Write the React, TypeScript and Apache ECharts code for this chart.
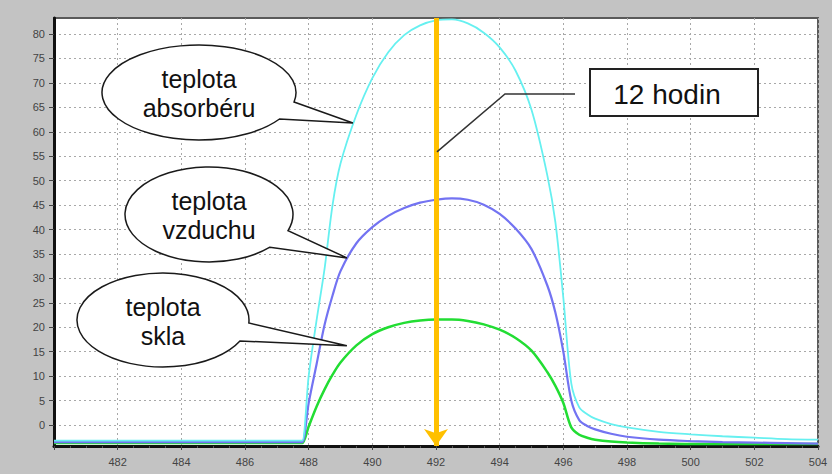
import React, { useEffect, useRef } from "react";
import * as echarts from "echarts";

// hours of simulation (x axis)
const hours = [480, 482, 484, 486, 487.7, 487.8, 488, 488.25, 488.5, 488.75, 489, 489.5, 490, 490.5, 491, 491.5, 492, 492.5, 493, 493.5, 494, 494.5, 495, 495.5, 495.75, 496, 496.25, 496.5, 496.75, 497, 497.5, 498, 499, 500, 501, 502, 503, 504];
// teplota absorbéru (cyan)
const absorber = [-3.2, -3.2, -3.2, -3.2, -3.2, -3.2, 10, 21.5, 32, 45, 53.5, 63.5, 71, 76.3, 79.8, 81.8, 82.8, 83, 82.2, 80.3, 77.3, 72.5, 64.5, 51, 41.5, 26, 8.5, 3.6, 2.2, 1.3, 0.2, -0.5, -1.4, -1.9, -2.3, -2.6, -2.9, -3.0];
// teplota vzduchu (blue)
const air = [-3.5, -3.5, -3.5, -3.5, -3.5, -3.5, 4.5, 12.5, 20.5, 26.5, 31.5, 37.2, 40.5, 42.8, 44.4, 45.5, 46.1, 46.4, 46.1, 45.1, 43.2, 40.2, 36, 28.5, 23, 15, 5, 1.0, -0.2, -0.9, -1.8, -2.4, -3.0, -3.3, -3.5, -3.6, -3.7, -3.8];
// teplota skla (green)
const glass = [-3.7, -3.7, -3.7, -3.7, -3.7, -3.7, -0.3, 3.8, 7.3, 10.3, 12.8, 16.3, 18.6, 20, 20.9, 21.4, 21.6, 21.6, 21.3, 20.6, 19.5, 17.8, 15.2, 10.8, 8, 4.5, -0.5, -2.0, -2.6, -3.0, -3.4, -3.6, -3.8, -3.9, -3.9, -3.9, -3.9, -3.9];

const X_MIN = 480;
const X_MAX = 504;
const X_STEP = 2;
const Y_MIN = -4.3;
const Y_MAX = 83.3;
const Y_TICK_MIN = 0;
const Y_TICK_MAX = 80;
const Y_STEP = 5;
const NOON = 492;

// callout labels and the data points their tails point at
const calloutTexts = ["teplota\nabsorbéru", "teplota\nvzduchu", "teplota\nskla"];
const calloutTips: [number, number][] = [[489.39, 61.8], [489.2, 34.2], [489.2, 16.2]];
const noonLabel = "12 hodin";
const noonTip: [number, number] = [492.03, 55.9];

const FONT = '"Liberation Sans", Arial, sans-serif';

// bubble geometry (pixels): cx, cy, rx, ry, tail base angles (deg)
const bubbles = [
  { cx: 199, cy: 92.5, rx: 97, ry: 47.5, a1: 11.5, a2: 33.9 },
  { cx: 209, cy: 214.5, rx: 84, ry: 47.5, a1: 19.8, a2: 43.5 },
  { cx: 163, cy: 320, rx: 86, ry: 47, a1: 3.7, a2: 26.5 },
];

function bubblePath(b: any, tip: number[]) {
  const r = Math.PI / 180;
  const p1 = [b.cx + b.rx * Math.cos(b.a1 * r), b.cy + b.ry * Math.sin(b.a1 * r)];
  const p2 = [b.cx + b.rx * Math.cos(b.a2 * r), b.cy + b.ry * Math.sin(b.a2 * r)];
  return `M ${p1[0].toFixed(2)} ${p1[1].toFixed(2)} A ${b.rx} ${b.ry} 0 1 0 ${p2[0].toFixed(2)} ${p2[1].toFixed(2)} L ${tip[0].toFixed(2)} ${tip[1].toFixed(2)} Z`;
}

export default function App() {
  const ref = useRef<HTMLDivElement>(null);
  useEffect(() => {
    document.body.style.margin = "0";
    const chart = echarts.init(ref.current!, null, { renderer: "svg" });
    const gridLine = { show: true, lineStyle: { color: "#a8a8a8", width: 1, type: [2, 3] as any } };
    const mk = (vals: number[]) => hours.map((h, i) => [h, vals[i]]);
    const option: any = {
      animation: false,
      backgroundColor: "#c3c3c3",
      grid: [
        { left: 54, top: 18, width: 764, height: 428, show: true, backgroundColor: "#ffffff", borderColor: "#5a5a5a", borderWidth: 2 },
        { left: 54, top: 34, width: 764, height: 391, show: false },
      ],
      xAxis: [
        {
          type: "value", gridIndex: 0, min: X_MIN, max: X_MAX, interval: X_STEP,
          axisLine: { show: true, onZero: false, lineStyle: { color: "#111", width: 3 } },
          axisTick: { show: true, length: 4, lineStyle: { color: "#444" } },
          minorTick: { show: true, splitNumber: 4, length: 2, lineStyle: { color: "#555" } },
          axisLabel: { showMinLabel: false, color: "#444", fontSize: 11, fontFamily: FONT, margin: 10 },
          splitLine: gridLine,
        },
        { type: "value", gridIndex: 1, min: X_MIN, max: X_MAX, show: false },
      ],
      yAxis: [
        {
          type: "value", gridIndex: 0, min: Y_MIN, max: Y_MAX,
          axisLine: { show: true, onZero: false, lineStyle: { color: "#111", width: 3 } },
          axisTick: { show: false }, axisLabel: { show: false }, splitLine: { show: false },
        },
        {
          type: "value", gridIndex: 1, min: Y_TICK_MIN, max: Y_TICK_MAX, interval: Y_STEP,
          axisLine: { show: false, onZero: false },
          axisTick: { show: true, length: 5, lineStyle: { color: "#444" } },
          axisLabel: { color: "#444", fontSize: 11, fontFamily: FONT, margin: 9 },
          splitLine: gridLine,
        },
      ],
      series: [
        { type: "line", name: "teplota skla", xAxisIndex: 0, yAxisIndex: 0, data: mk(glass), showSymbol: false, smooth: 0.3, lineStyle: { color: "#22dd33", width: 2.5 }, itemStyle: { color: "#22dd33" }, z: 3 },
        { type: "line", name: "teplota vzduchu", xAxisIndex: 0, yAxisIndex: 0, data: mk(air), showSymbol: false, smooth: 0.3, lineStyle: { color: "#7373f2", width: 2.2 }, itemStyle: { color: "#7373f2" }, z: 3 },
        {
          type: "line", name: "teplota absorbéru", xAxisIndex: 0, yAxisIndex: 0, data: mk(absorber), showSymbol: false, smooth: 0.3, lineStyle: { color: "#66f0f0", width: 1.8 }, itemStyle: { color: "#66f0f0" }, z: 4,
          markLine: {
            silent: true, symbol: ["none", "arrow"], symbolSize: [18, 17],
            label: { show: false },
            lineStyle: { color: "#ffc000", width: 5, type: "solid" },
            emphasis: { disabled: true },
            data: [[{ coord: [NOON, Y_MAX] }, { coord: [NOON, Y_MIN] }]],
          },
        },
      ],
    };
    chart.setOption(option);

    const toPx = (p: number[]) => chart.convertToPixel({ xAxisIndex: 0, yAxisIndex: 0 }, p) as number[];
    const graphics: any[] = [];
    bubbles.forEach((b, i) => {
      const tip = toPx(calloutTips[i]);
      const name = "bubble" + i;
      echarts.graphic.registerShape(name, (echarts.graphic as any).extendPath(bubblePath(b, tip), {}));
      graphics.push({ type: name, x: 0, y: 0, z: 20, style: { fill: "#ffffff", stroke: "#1a1a1a", lineWidth: 1.5 } });
      graphics.push({
        type: "text", x: b.cx, y: b.cy + 1, z: 21,
        style: { text: calloutTexts[i], fontSize: 25, fontFamily: FONT, fill: "#111", align: "center", verticalAlign: "middle", lineHeight: 29 },
      });
    });
    const nt = toPx(noonTip);
    graphics.push({ type: "polyline", z: 20, shape: { points: [nt, [505, 94], [575, 94]] }, style: { stroke: "#333", lineWidth: 1.5, fill: null } });
    graphics.push({ type: "rect", z: 20, shape: { x: 590, y: 69, width: 168, height: 47 }, style: { fill: "#ffffff", stroke: "#222", lineWidth: 2 } });
    graphics.push({ type: "text", x: 667, y: 94, z: 21, style: { text: noonLabel, fontSize: 28, fontFamily: FONT, fill: "#111", align: "center", verticalAlign: "middle" } });
    chart.setOption({ graphic: graphics });

    return () => chart.dispose();
  }, []);
  return <div ref={ref} style={{ width: 832, height: 474 }} />;
}
